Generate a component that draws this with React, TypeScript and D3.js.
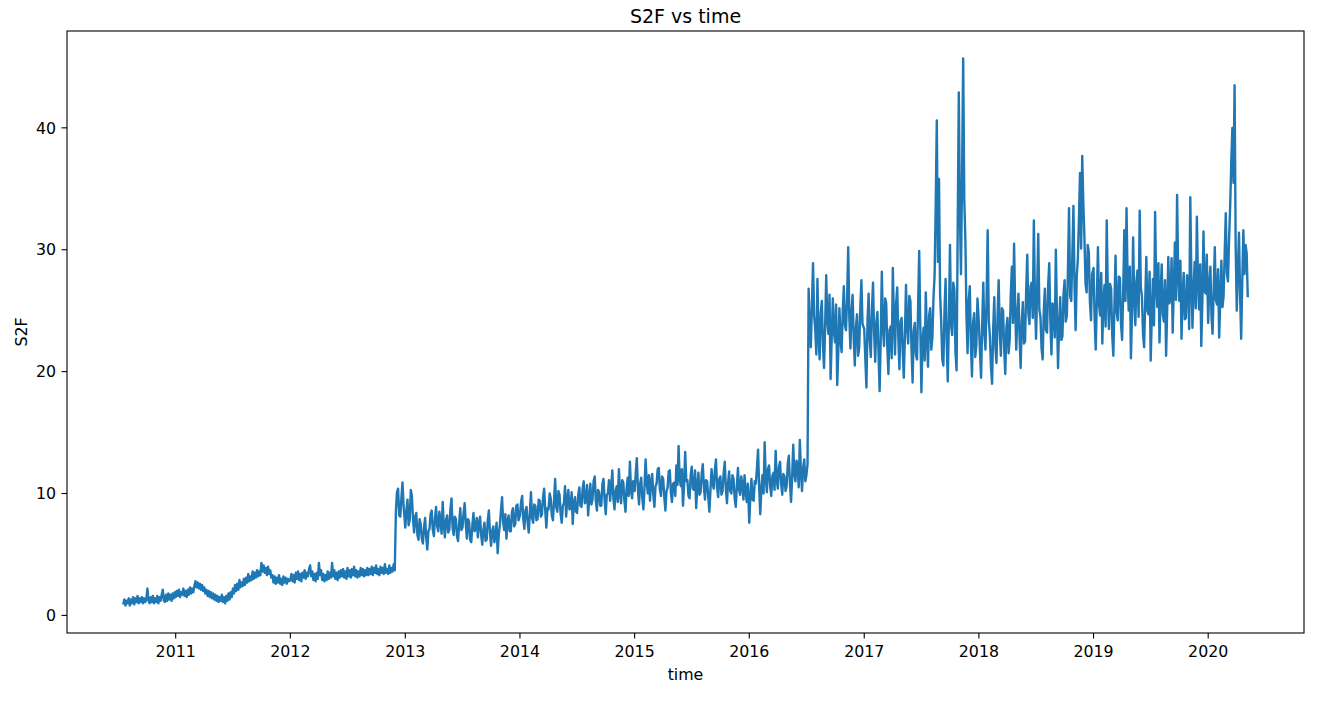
import * as d3 from 'd3'
import React from 'react'

// S2F readings twice a week, one array per calendar year (2010 starts mid-July)
const s2f2010 = [
  0.9, 1.3, 0.8, 1.2, 1.0, 1.4, 0.8, 1.3, 1.0, 1.5, 0.9, 1.4, 1.1, 1.6, 1.0, 1.4, 1.1, 1.5, 1.0, 1.4, 1.1, 1.3, 2.2,
  1.2, 1.0, 1.5, 1.1, 1.6, 1.0, 1.4, 1.1, 1.6, 1.0, 1.5, 1.2, 1.7, 2.1, 1.2, 1.1, 1.7, 1.2, 1.8, 1.3, 1.7, 1.2, 1.8,
  1.4, 1.9,
]
const s2f2011 = [
  1.5, 2.0, 1.6, 2.1, 1.5, 1.9, 1.7, 2.2, 1.6, 2.0, 1.5, 2.1, 1.7, 2.3, 1.8, 2.2, 1.9, 2.4,
  2.8, 2.3, 2.7, 2.2, 2.6, 2.1, 2.5, 2.0,
  2.3, 1.8, 2.1, 1.6, 2.0, 1.5, 1.9, 1.4, 1.8, 1.3, 1.7, 1.2, 1.6, 1.1, 1.5, 1.2, 1.7, 1.1, 1.5, 1.0, 1.6, 1.2, 1.8,
  1.3, 1.9, 1.5,
  2.2, 1.8, 2.5, 2.0, 2.6, 2.1, 2.9, 2.3, 2.7, 2.4, 3.0, 2.5, 3.1, 2.7, 3.4, 2.8, 3.2, 2.9, 3.6, 3.0, 3.5, 3.1, 3.7,
  3.2, 3.6, 3.3,
  4.3, 3.6, 4.1, 3.5, 3.9, 3.3, 4.0, 3.4, 3.7, 3.1,
  3.3, 2.7, 3.2, 2.6, 3.1, 2.7, 3.3, 2.6, 3.0, 2.5, 3.2, 2.7, 3.1, 2.6, 3.0, 2.8,
]
const s2f2012 = [
  2.9, 3.4, 2.8, 3.3, 2.7, 3.5, 3.0, 3.6, 2.9, 3.4, 2.8, 3.5, 3.1, 3.7, 3.0, 3.5, 3.2, 3.8,
  4.1, 3.2, 3.6, 2.9, 3.4, 2.8, 3.5, 3.0,
  4.3, 3.3, 3.7, 2.9, 3.4, 2.8, 3.3, 2.9, 3.6, 3.0, 3.5, 3.1,
  4.3, 3.2, 3.7, 3.0, 3.5, 2.9, 3.6, 3.1, 3.7, 3.2,
  3.8, 3.1, 3.6, 3.0, 3.9, 3.2, 3.7, 3.1, 3.8, 3.3, 4.0, 3.2, 3.7, 3.1, 3.6, 3.2, 3.9, 3.3, 3.8, 3.2, 3.7, 3.3,
  3.9, 3.3, 3.8, 3.4, 4.0, 3.3, 3.9, 3.5, 4.1, 3.4, 3.8, 3.3, 4.0, 3.5, 3.9, 3.4, 4.2, 3.5, 3.8, 3.4, 4.1, 3.5, 3.9,
  3.6, 4.2, 3.7,
  8.5, 10.1, 10.4, 8.2, 8.1, 9.6, 10.9, 9.0,
]
const s2f2013 = [
  7.2, 8.6, 9.5, 7.4, 7.8, 10.3, 9.8, 7.9,
  6.8, 8.1, 8.4, 6.6, 6.2, 7.9, 7.5, 6.3, 5.9, 7.2, 8.0, 6.4, 5.4, 6.9, 7.1, 8.3,
  8.6, 7.0, 6.5, 8.0, 8.9, 7.3, 6.9, 8.5, 7.8, 6.7, 9.3, 7.4, 6.4, 7.8, 8.2, 6.8, 7.0, 8.7, 9.6, 7.2, 6.6, 8.1,
  7.9, 6.5, 6.1, 7.6, 8.8, 7.0, 7.2, 8.4, 9.2, 7.5, 6.3, 7.9, 7.7, 6.2, 6.0, 7.4, 8.4, 6.9, 7.1, 8.0,
  6.4, 7.5, 8.1, 6.6, 5.8, 7.0, 7.6, 6.1, 6.2, 7.8, 8.6, 6.8, 5.7, 6.9, 7.3, 6.0, 6.5, 7.6, 5.1, 6.6,
  7.4, 8.6, 9.7, 7.6, 7.0, 8.3, 6.3, 7.7, 8.2, 6.9, 6.9, 8.5, 8.8, 7.3, 7.5, 9.0, 9.1, 7.8,
]
const s2f2014 = [
  8.2, 9.3, 9.8, 7.9, 7.1, 8.6, 8.9, 7.6, 6.8, 8.4, 10.1, 8.0, 7.6, 9.1, 9.0, 7.8, 7.9, 9.5, 9.4, 8.1, 8.3, 9.7, 10.4,
  8.6, 7.2, 8.8,
  8.7, 10.0, 9.6, 8.2, 7.8, 9.4, 11.2, 8.9, 8.5, 10.2, 9.9, 8.3, 7.6, 9.0, 9.2, 10.6, 8.1, 9.5, 10.3, 8.7, 8.8, 10.1,
  7.5, 9.2, 9.7, 8.5, 8.4, 9.9,
  10.5, 9.0, 8.9, 10.4, 11.0, 9.2, 9.3, 10.7, 8.2, 9.6, 10.8, 9.1, 9.5, 11.0, 11.4, 9.4, 8.6, 10.3, 10.1, 9.0, 9.0,
  10.8, 11.2, 9.5, 8.3, 9.9, 10.0, 11.1,
  9.4, 10.5, 11.9, 9.6, 8.7, 10.2, 10.6, 9.3, 12.0, 10.0, 9.2, 11.1, 10.9, 9.4, 8.5, 10.4, 11.3, 9.8, 12.6, 10.3, 9.6,
  11.0,
]
const s2f2015 = [
  10.2, 11.6, 12.9, 10.4, 9.1, 10.8, 11.3, 9.6, 8.7, 10.5, 12.8, 10.9, 10.0, 11.5,
  9.4, 10.9, 11.6, 9.9, 8.9, 10.6, 10.8, 12.0, 12.1, 10.3, 9.8, 11.4, 11.2, 9.7, 8.6, 10.2, 10.5, 11.8, 11.9, 10.1,
  9.3, 10.8, 10.9, 9.8, 12.3, 10.7,
  13.9, 11.2, 10.6, 12.0, 9.0, 10.7, 13.4, 11.0, 11.1, 9.8, 9.6, 11.5, 12.2, 10.4, 10.3, 11.9, 8.8, 10.5, 11.7, 9.9,
  10.1, 11.6, 12.4, 10.6, 9.5, 11.1, 11.0, 9.7, 8.5, 10.3, 12.0, 10.8,
  10.4, 11.9, 12.8, 10.5, 9.7, 11.2, 11.4, 9.9, 10.2, 11.7, 12.6, 10.4, 9.2, 10.9, 11.8, 10.2, 10.0, 11.5, 11.2, 9.6,
  8.9, 10.6, 12.1, 10.3, 9.9, 11.4, 10.7, 9.5, 11.5, 10.2, 9.3, 10.8,
]
const s2f2016 = [
  7.6, 9.8, 11.2, 9.5, 9.4, 11.0, 10.8, 12.1, 13.6, 10.5, 8.3, 10.4,
  11.5, 10.0, 14.2, 11.3, 10.1, 12.0, 12.3, 10.6, 9.8, 11.4, 11.7, 10.3, 13.5, 11.1,
  10.4, 12.2, 12.6, 10.8, 9.9, 11.6, 11.4, 10.2, 10.6, 12.4, 13.1, 10.9, 9.3, 11.3, 14.0, 11.6, 11.0, 12.7, 12.2, 10.5,
  14.4, 11.8, 10.2, 12.1, 12.8, 11.0, 11.5, 12.4,
  26.8, 23.9, 22.0, 25.4, 28.9, 24.6, 23.5, 21.4, 27.6, 23.0, 21.0, 24.8, 25.8, 22.2, 20.3, 23.7,
  27.9, 24.1, 23.1, 26.3, 19.4, 22.8, 26.0, 23.3, 22.4, 25.5, 18.9, 21.7, 25.2, 22.6, 21.6, 24.9, 27.0, 23.8, 23.4,
  26.1, 30.2, 24.5, 21.9, 25.0, 26.3, 22.7, 20.5, 23.6, 24.7, 21.3, 22.0, 25.2, 27.5, 23.9,
]
const s2f2017 = [
  23.5, 21.0, 18.7, 24.2, 26.4, 22.5, 21.2, 25.1, 27.3, 23.2, 20.8, 24.0, 24.9, 21.5, 18.4, 22.7, 28.2, 23.6, 22.1,
  26.0,
  25.6, 22.0, 19.8, 23.4, 23.7, 21.1, 28.5, 24.3, 21.4, 25.6, 26.9, 22.8, 20.2, 24.1, 24.4, 21.7, 19.5, 23.0, 27.1,
  23.5,
  22.3, 26.2, 25.8, 21.9, 19.1, 23.3, 24.0, 21.4, 21.0, 25.3, 29.9, 23.7, 18.3, 22.6, 23.6, 20.9, 26.5, 22.9, 20.4,
  24.6, 25.2, 21.8,
  22.8, 26.1, 27.9, 33.5, 40.6, 29.0, 35.8, 26.4, 24.1, 21.0, 20.5, 25.0, 27.6, 22.4, 19.2, 24.3, 30.4, 23.8, 23.0,
  27.3, 26.7, 21.6, 20.1, 31.5,
  42.9, 33.0, 28.0, 36.2, 45.7, 34.1, 30.8, 24.5, 21.5, 25.8, 27.0, 22.3, 19.6, 24.0, 24.8, 21.2, 22.2, 26.0,
]
const s2f2018 = [
  24.0, 21.6, 19.5, 23.8, 27.3, 23.1, 21.8, 26.0, 31.6, 24.2, 22.9, 20.4, 19.0, 23.5, 26.1, 22.0, 20.7, 24.6,
  27.5, 23.3, 21.3, 25.2, 25.0, 21.9, 19.8, 23.6, 24.4, 21.5, 22.6, 26.3, 28.6, 24.0, 30.5, 25.4,
  21.8, 24.7, 26.4, 22.8, 20.3, 24.1, 25.7, 22.3, 22.5, 26.6, 29.6, 24.8, 23.9, 27.0, 27.3, 24.4, 32.4, 25.9,
  22.7, 26.8, 31.3, 25.1, 24.5, 21.9, 21.0, 24.9, 26.8, 23.4, 23.2, 27.1, 28.9, 24.2, 21.4, 25.6, 25.3, 22.8, 30.0,
  24.7,
  20.3, 23.9, 26.1, 22.6, 22.9, 26.4, 27.5, 24.1, 24.6, 28.3, 33.4, 26.2, 25.8, 29.5, 33.6, 27.0, 23.4, 27.8, 29.2,
  32.5,
  36.3, 30.1, 37.7, 33.8, 31.0, 27.2, 26.5, 30.4, 29.8, 25.7, 24.2, 28.0,
]
const s2f2019 = [
  28.5, 24.3, 21.8, 25.9, 30.2, 25.5, 24.6, 28.1, 22.3, 25.8, 27.1, 23.7, 32.4, 26.5,
  23.5, 27.2, 26.8, 23.0, 21.3, 25.4, 29.5, 24.9, 24.2, 27.8, 27.7, 23.9, 22.6, 26.7, 31.6, 25.8, 33.4, 27.5,
  25.0, 28.6, 21.1, 24.8, 31.0, 26.0, 23.8, 27.4, 28.3, 24.5, 33.2, 26.9,
  26.2, 23.1, 22.0, 25.7, 29.4, 25.0, 24.7, 28.2, 20.9, 24.6, 27.6, 23.8, 33.1, 27.0,
  25.3, 28.9, 22.4, 26.3, 28.8, 24.7, 24.1, 27.5, 21.3, 25.1, 29.4, 25.6, 26.0, 29.3, 23.2, 26.8, 30.6, 25.9, 34.5,
  28.0,
  25.8, 29.1, 22.7, 26.2, 28.1, 24.3, 24.4, 27.9, 27.2, 23.5, 34.3, 27.6, 23.6, 26.9,
  29.0, 25.2, 32.7, 27.4, 25.1, 28.8, 22.1, 25.9, 31.5, 26.6, 26.4, 29.6,
]
const s2f2020 = [
  24.0, 27.1, 28.6, 24.5, 23.1, 26.8, 30.2, 25.9, 25.5, 28.4, 22.8, 26.0, 29.1, 25.3, 26.2, 29.7, 33.0, 28.1, 27.4,
  30.9, 33.6, 37.2, 40.0, 35.5, 43.5, 30.2, 25.0, 28.5, 31.4, 26.3, 22.7, 27.5, 31.6, 28.0, 30.4, 29.7, 26.1,
]

const yearStarts = [
  '2010-07-18', '2011-01-01', '2012-01-01', '2013-01-01', '2014-01-01', '2015-01-01', '2016-01-01', '2017-01-01',
  '2018-01-01', '2019-01-01', '2020-01-01',
]
const yearValues = [s2f2010, s2f2011, s2f2012, s2f2013, s2f2014, s2f2015, s2f2016, s2f2017, s2f2018, s2f2019, s2f2020]

type Datum = { time: Date; s2f: number }

// readings are 3.5 days (84 hours) apart
const parseDay = d3.utcParse('%Y-%m-%d')
const data: Datum[] = yearValues.flatMap((values, k) =>
  values.map((s2f, i) => ({ time: d3.utcHour.offset(parseDay(yearStarts[k]) as Date, 84 * i), s2f }))
)

const width = 1338
const height = 702
const margin = { top: 31, right: 34, bottom: 69, left: 67 }
const font = '"DejaVu Sans", sans-serif'

const App = () => {
  const [t0, t1] = d3.extent(data, (d) => d.time) as [Date, Date]
  const tPad = (t1.getTime() - t0.getTime()) * 0.05
  const [v0, v1] = d3.extent(data, (d) => d.s2f) as [number, number]
  const vPad = (v1 - v0) * 0.05

  const x = d3
    .scaleUtc()
    .domain([new Date(t0.getTime() - tPad), new Date(t1.getTime() + tPad)])
    .range([margin.left, width - margin.right])
  const y = d3
    .scaleLinear()
    .domain([v0 - vPad, v1 + vPad])
    .range([height - margin.bottom, margin.top])

  const line = d3
    .line<Datum>()
    .x((d) => x(d.time))
    .y((d) => y(d.s2f))

  const xTicks = x.ticks(d3.utcYear.every(1) as d3.TimeInterval)
  const yTicks = y.ticks(5)
  const bottom = height - margin.bottom
  const fmtYear = d3.utcFormat('%Y')

  return (
    <svg width={width} height={height} style={{ position: 'absolute', left: 0, top: 0, background: '#fff' }}>
      <path d={line(data) ?? ''} fill="none" stroke="#1f77b4" strokeWidth={2.4} strokeLinejoin="round" />

      <rect
        x={margin.left}
        y={margin.top}
        width={width - margin.left - margin.right}
        height={bottom - margin.top}
        fill="none"
        stroke="#000"
        strokeWidth={1.1}
      />

      {xTicks.map((t) => (
        <g key={t.getTime()}>
          <line x1={x(t)} x2={x(t)} y1={bottom} y2={bottom + 5.5} stroke="#000" strokeWidth={1.1} />
          <text x={x(t)} y={657} textAnchor="middle" fontFamily={font} fontSize={15.8} fill="#000">
            {fmtYear(t)}
          </text>
        </g>
      ))}

      {yTicks.map((v) => (
        <g key={v}>
          <line x1={margin.left - 5.5} x2={margin.left} y1={y(v)} y2={y(v)} stroke="#000" strokeWidth={1.1} />
          <text x={56} y={y(v) + 5.7} textAnchor="end" fontFamily={font} fontSize={15.8} fill="#000">
            {v}
          </text>
        </g>
      ))}

      <text x={(margin.left + width - margin.right) / 2} y={23} textAnchor="middle" fontFamily={font} fontSize={19} fill="#000">
        S2F vs time
      </text>
      <text x={(margin.left + width - margin.right) / 2} y={680} textAnchor="middle" fontFamily={font} fontSize={15.8} fill="#000">
        time
      </text>
      <text
        transform={`translate(26.5,${(margin.top + bottom) / 2}) rotate(-90)`}
        textAnchor="middle"
        fontFamily={font}
        fontSize={15.8}
        fill="#000"
      >
        S2F
      </text>
    </svg>
  )
}

export default App
